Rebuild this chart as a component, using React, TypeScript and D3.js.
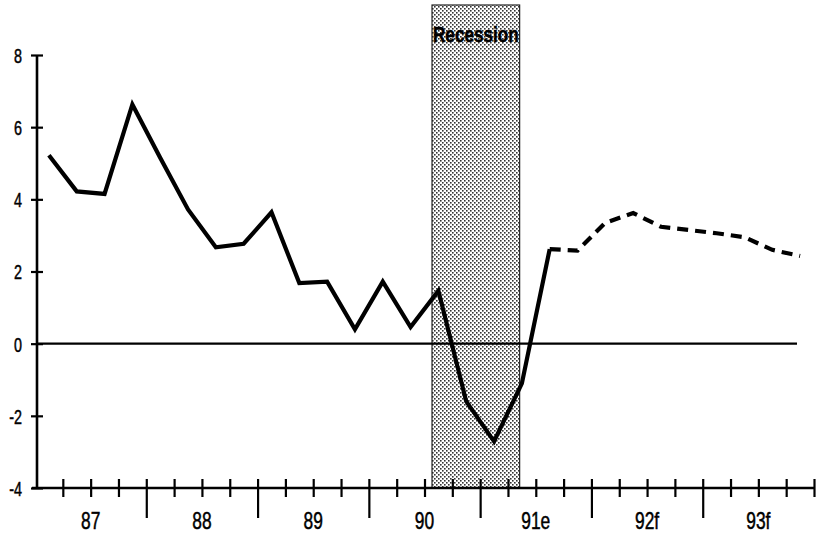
import React, { useEffect, useRef } from "react";
import * as d3 from "d3";

// Quarterly values, 87Q1 .. 93Q4 (index 0..27)
const actualValues = [
  5.22, 4.22, 4.15, 6.63, 5.15, 3.72, 2.67, 2.77,
  3.64, 1.68, 1.72, 0.4, 1.72, 0.46, 1.47, -1.6,
  -2.71, -1.1, 2.62,
];
const forecastValues = [2.62, 2.58, 3.35, 3.62, 3.24, 3.15, 3.06, 2.95, 2.6, 2.43];
const forecastStart = 18;
const yearLabels = ["87", "88", "89", "90", "91e", "92f", "93f"];
const yTicks = [-4, -2, 0, 2, 4, 6, 8];
const recessionLabel = "Recession";
const recessionStartQ = 14.27;
const recessionEndQ = 17.42;
const nQuarters = 28;

const W = 817;
const H = 536;
const FONT = "'Liberation Sans', Arial, sans-serif";
const YSX = 0.7;
const XSX = 0.74;

export default function App() {
  const xAxisRef = useRef<SVGGElement>(null);
  const yAxisRef = useRef<SVGGElement>(null);

  const x = d3.scaleLinear().domain([0, nQuarters]).range([35, 814]);
  const y = d3.scaleLinear().domain([-4, 8]).range([488, 55]);

  const actual = actualValues.map((v, i) => ({ q: i + 0.5, v }));
  const forecast = forecastValues.map((v, i) => ({ q: forecastStart + i + 0.5, v }));
  const line = d3
    .line<{ q: number; v: number }>()
    .x((d) => x(d.q))
    .y((d) => y(d.v));

  useEffect(() => {
    // Y axis
    const yg = d3.select(yAxisRef.current!);
    yg.selectAll("*").remove();
    yg.call(
      d3.axisLeft(y).tickValues(yTicks).tickSize(6).tickPadding(10).tickFormat((d) => String(d))
    );
    yg.select(".domain").attr("d", `M0,${y(8)}V${y(-4)}`).attr("stroke", "#000").attr("stroke-width", 2.6);
    yg.selectAll(".tick line").attr("x1", -6).attr("x2", 6).attr("stroke", "#000").attr("stroke-width", 2.2);
    yg.selectAll(".tick text")
      .attr("font-family", FONT)
      .attr("font-size", 20.5)
      .attr("fill", "#000")
      .attr("stroke", "#000")
      .attr("stroke-width", 0.5)
      .attr("transform", `scale(${YSX},1)`)
      .attr("x", -15 / YSX)
      .attr("dy", "0.36em");

    // X axis
    const xg = d3.select(xAxisRef.current!);
    xg.selectAll("*").remove();
    const qTicks = d3.range(1, nQuarters + 1);
    xg.call(d3.axisBottom(x).tickValues(qTicks).tickSize(0).tickFormat(() => ""));
    xg.select(".domain").attr("d", `M${x(0) - 3},0H${x(nQuarters)}`).attr("stroke", "#000").attr("stroke-width", 2.6);
    xg.selectAll<SVGLineElement, number>(".tick line")
      .attr("y1", -9)
      .attr("y2", (d) => (d % 4 === 0 && d < nQuarters ? 30 : 9))
      .attr("stroke", "#000")
      .attr("stroke-width", 2.2);

    const lg = xg.append("g").attr("transform", `scale(${XSX},1)`);
    lg.selectAll("text")
      .data(yearLabels)
      .join("text")
      .attr("x", (_, i) => x(i * 4 + 2) / XSX)
      .attr("y", 41)
      .attr("text-anchor", "middle")
      .attr("font-family", FONT)
      .attr("font-size", 23.5)
      .attr("fill", "#000")
      .attr("stroke", "#000")
      .attr("stroke-width", 0.5)
      .text((d) => d);
  }, []);

  const rx0 = x(recessionStartQ);
  const rx1 = x(recessionEndQ);

  return (
    <svg
      width={W}
      height={H}
      style={{ position: "absolute", left: 0, top: 0, background: "#fff" }}
    >
      <defs>
        <pattern id="dots" width="4" height="4" patternUnits="userSpaceOnUse">
          <rect width="4" height="4" fill="#fff" />
          <rect x="0" y="0" width="1.6" height="1.6" fill="#333" />
          <rect x="2" y="2" width="1.6" height="1.6" fill="#333" />
        </pattern>
      </defs>
      <rect
        x={rx0}
        y={5}
        width={rx1 - rx0}
        height={y(-4) - 5}
        fill="url(#dots)"
        stroke="#222"
        strokeWidth={1.2}
      />
      <text
        x={rx0 + 1}
        y={42}
        fontFamily={FONT}
        fontWeight="bold"
        fontSize={22}
        textLength={rx1 - rx0 - 2}
        lengthAdjust="spacingAndGlyphs"
        fill="#000"
        stroke="#000"
        strokeWidth={0.5}
      >
        {recessionLabel}
      </text>
      <line x1={37} x2={797} y1={y(0)} y2={y(0)} stroke="#000" strokeWidth={2.2} />
      <g ref={yAxisRef} transform={`translate(${x(0) + 2},0)`} />
      <g ref={xAxisRef} transform={`translate(0,${y(-4)})`} />
      <path d={line(actual) || ""} fill="none" stroke="#000" strokeWidth={4.2} strokeLinejoin="miter" />
      <path
        d={line(forecast) || ""}
        fill="none"
        stroke="#000"
        strokeWidth={4.2}
        strokeDasharray="11,7"
        strokeLinejoin="miter"
      />
    </svg>
  );
}
